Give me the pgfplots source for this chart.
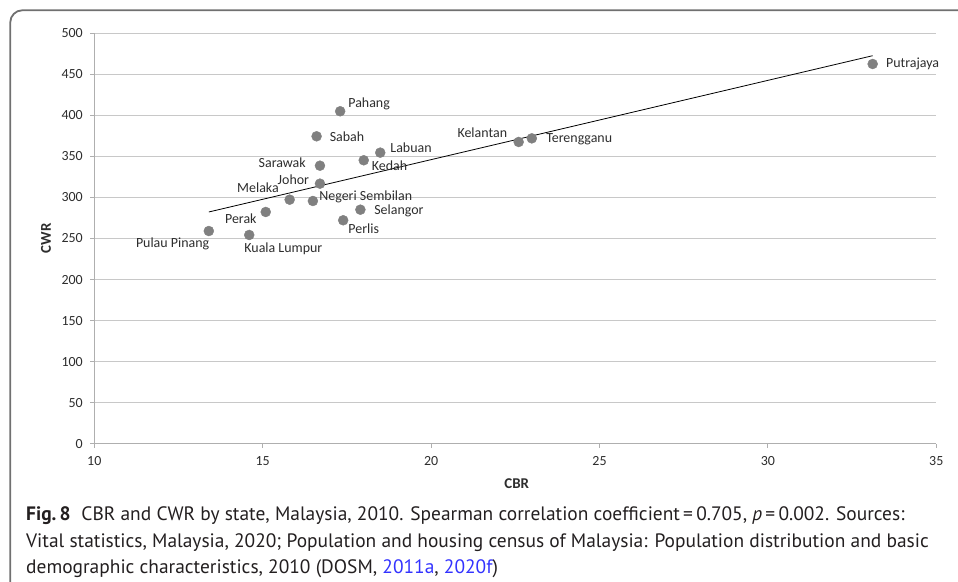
\documentclass[border=0pt]{standalone}
\usepackage{fontspec}
\setmainfont{Carlito}
\newfontfamily\capfont{PT Sans}
\usepackage{pgfplots}
\pgfplotsset{compat=1.18}
\usepackage{pgfplotstable}

\definecolor{markgray}{RGB}{128,128,128}
\definecolor{gridgray}{RGB}{200,200,200}
\definecolor{axisgray}{RGB}{175,175,175}
\definecolor{framegray}{RGB}{112,112,112}
\definecolor{labtext}{RGB}{45,45,45}
\definecolor{captext}{RGB}{35,31,32}
\definecolor{linkblue}{RGB}{51,51,255}

% CBR (x) and CWR (y) by state, 2010
\pgfplotstableread{
cbr   cwr
13.40 259.1
14.60 254.3
15.09 282.3
15.80 297.3
16.49 295.7
16.70 316.8
16.70 338.7
16.60 374.5
17.30 405.0
17.39 272.2
17.90 285.1
18.00 345.3
18.49 354.6
22.60 367.6
22.99 372.0
33.11 462.6
}\statedata

% state label: x, y, anchor, x offset, y offset, name
\newcommand{\lab}[6]{\node[anchor=#3, inner sep=0pt, xshift=#4bp, yshift=#5bp,
  font=\fontsize{14}{16}\selectfont, text=labtext] at (axis cs:#1,#2) {#6};}

\begin{document}
\begin{tikzpicture}[x=1bp,y=1bp]
\useasboundingbox (0,0) rectangle (958,582);
\draw[framegray, line width=1.8bp, rounded corners=12bp]
  (10.3,0) -- (10.3,571.7) -- (958,571.7);

\begin{axis}[
  at={(94.3bp,138.3bp)}, anchor=south west,
  scale only axis, width=842bp, height=410.4bp,
  xmin=10, xmax=35, ymin=0, ymax=500,
  xtick={10,15,...,35}, ytick={0,50,...,500},
  axis x line*=bottom, axis y line*=left,
  axis line style={axisgray, line width=1bp, -},
  tick align=outside, major tick length=4bp,
  tick style={axisgray, line width=1bp},
  ymajorgrids, major grid style={gridgray, line width=1bp},
  /pgf/number format/assume math mode=true,
  tick label style={font=\fontsize{14}{15}\selectfont, text=labtext},
  yticklabel style={xshift=-4bp},
  xticklabel style={yshift=-5bp},
  clip=false,
]
\addplot[black, line width=0.8bp] coordinates {(13.40,282.3) (33.11,472.7)};
\addplot[only marks, mark=*, mark size=5bp, color=markgray] table[x=cbr, y=cwr] {\statedata};

\lab{17.30}{405.0}{west}{8}{7.6}{Pahang}
\lab{16.60}{374.5}{west}{13}{0}{Sabah}
\lab{18.49}{354.6}{west}{10}{5.4}{Labuan}
\lab{18.00}{345.3}{west}{8}{-5}{Kedah}
\lab{16.70}{338.7}{east}{-14}{3.4}{Sarawak}
\lab{16.70}{316.8}{east}{-10.7}{4}{Johor}
\lab{15.80}{297.3}{east}{-10.7}{12}{Melaka}
\lab{16.49}{295.7}{west}{6.3}{4.3}{Negeri Sembilan}
\lab{17.90}{285.1}{west}{13.7}{-1}{Selangor}
\lab{17.39}{272.2}{west}{5}{-8}{Perlis}
\lab{15.09}{282.3}{east}{-9}{-6.7}{Perak}
\lab{13.40}{259.1}{east}{0.6}{-12.7}{Pulau Pinang}
\lab{14.60}{254.3}{west}{-5}{-14.3}{Kuala Lumpur}
\lab{22.60}{367.6}{east}{-11.4}{9.3}{Kelantan}
\lab{22.99}{372.0}{west}{14.3}{-1}{Terengganu}
\lab{33.11}{462.6}{west}{13.3}{-0.3}{Putrajaya}
\end{axis}

% axis titles
\node[rotate=90, font=\fontsize{15}{17}\selectfont\bfseries, text=labtext] at (46,343.5) {CWR};
\node[font=\fontsize{15}{17}\selectfont\bfseries, text=labtext] at (516.7,98.7) {CBR};

% caption
\begin{scope}[every node/.style={anchor=base west, inner sep=0pt, text=captext,
    font=\capfont\fontsize{19.5}{22}\selectfont}]
\node at (26,61.3) {{\bfseries Fig.\,8}\hspace{0.55em}CBR and CWR by state, Malaysia, 2010. Spearman correlation coefficient\,=\,0.705, \textit{p}\,=\,0.002. Sources:};
\node at (26,34.3) {Vital statistics, Malaysia, 2020; Population and housing census of Malaysia: Population distribution and basic};
\node at (26,8.7) {demographic characteristics, 2010 (DOSM, \textcolor{linkblue}{2011a}, \textcolor{linkblue}{2020f})};
\end{scope}
\end{tikzpicture}
\end{document}
